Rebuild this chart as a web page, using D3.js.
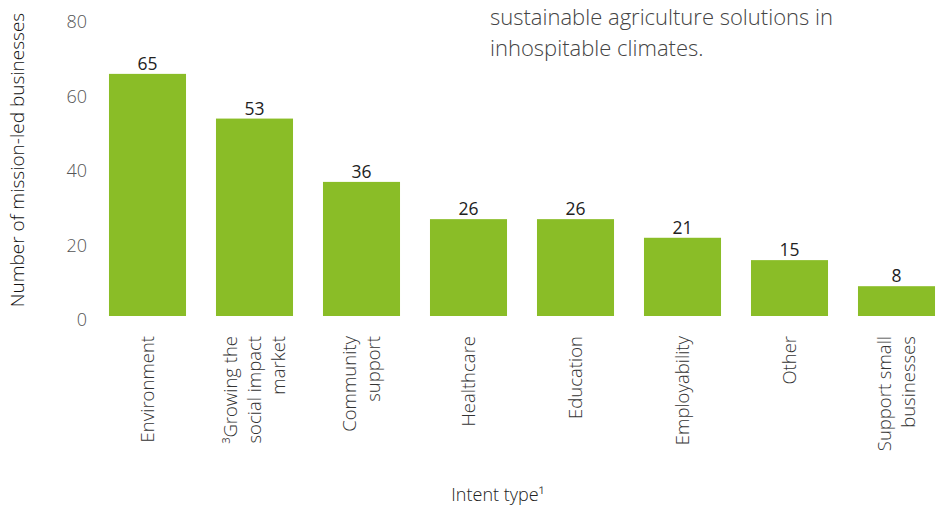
<!DOCTYPE html>
<html><head><meta charset="utf-8">
<script src="https://cdn.jsdelivr.net/npm/d3@7"></script>
<style>
body{margin:0;background:#fff;}
text{font-family:"Open Sans",sans-serif;}
</style></head>
<body><svg id="c" width="939" height="506"></svg>
<script>
const categories = [
  ["Environment"],
  ["³Growing the","social impact","market"],
  ["Community","support"],
  ["Healthcare"],
  ["Education"],
  ["Employability"],
  ["Other"],
  ["Support small","businesses"]
];
const values = [65, 53, 36, 26, 26, 21, 15, 8];
const yTicks = [0, 20, 40, 60, 80];
const yTitle = "Number of mission-led businesses";
const xTitle = "Intent type¹";
const noteLines = ["sustainable agriculture solutions in", "inhospitable climates."];

const svg = d3.select("#c");
const x = d3.scaleBand().domain(d3.range(values.length)).range([94, 950]).paddingInner(0.28).paddingOuter(0.14);
const y = d3.scaleLinear().domain([0, 80]).range([316, 18]);
const green = "#8abd27";

// bars
svg.selectAll("rect.bar").data(values).join("rect")
  .attr("x", (d,i)=>x(i)).attr("width", x.bandwidth())
  .attr("y", d=>y(d)).attr("height", d=>y(0)-y(d))
  .attr("fill", green);

// value labels
svg.selectAll("text.val").data(values).join("text")
  .attr("x", (d,i)=>x(i)+x.bandwidth()/2).attr("y", d=>y(d)-4)
  .attr("text-anchor","middle").attr("font-size",17.5).attr("fill","#222")
  .text(d=>d);

// y axis
const yAxis = d3.axisLeft(y).tickValues(yTicks).tickSize(0).tickPadding(0);
const ga = svg.append("g").attr("transform","translate(87,4)").call(yAxis);
ga.select(".domain").remove();
ga.selectAll("text").attr("font-size",18).attr("fill","#555").attr("font-family","Open Sans, sans-serif").attr("font-weight",300);

// y title
svg.append("text").attr("transform","translate(24,160) rotate(-90)")
  .attr("text-anchor","middle").attr("font-size",19).attr("fill","#111").attr("font-weight",300)
  .text(yTitle);

// x labels
const lh = 24;
categories.forEach((lines,i)=>{
  const cx = x(i)+x.bandwidth()/2;
  const n = lines.length;
  lines.forEach((ln,j)=>{
    const off = (j-(n-1)/2)*lh;
    svg.append("text")
      .attr("transform",`translate(${cx+off+6},336) rotate(-90)`)
      .attr("text-anchor","end").attr("font-size",18.5).attr("fill","#333").attr("font-weight",300)
      .text(ln);
  });
});

// x title
svg.append("text").attr("x",498).attr("y",501).attr("text-anchor","middle")
  .attr("font-size",18).attr("fill","#222").attr("font-weight",300).text(xTitle);

// note text
noteLines.forEach((t,i)=>{
  svg.append("text").attr("x",490).attr("y",25+i*31).attr("font-size",22)
    .attr("fill","#444").attr("font-weight",300).text(t);
});
</script></body></html>
